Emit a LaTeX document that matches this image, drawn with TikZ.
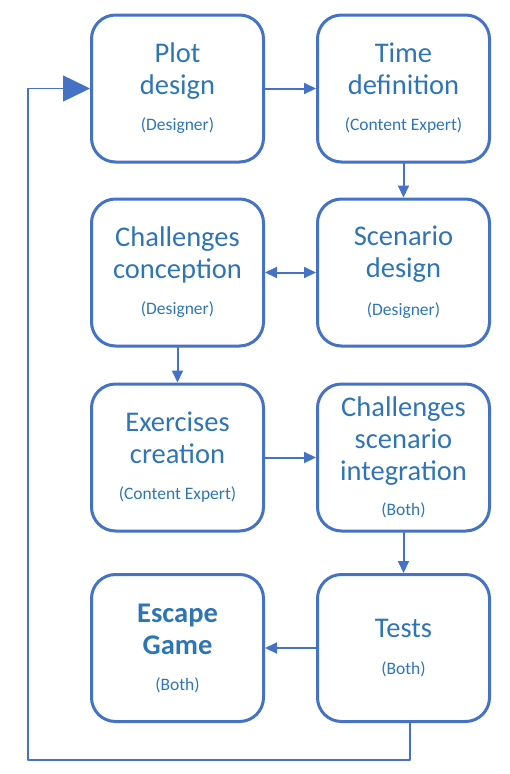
\documentclass[tikz,border=0pt]{standalone}
\usepackage{fontspec}
\setmainfont{Carlito}
\usetikzlibrary{arrows.meta,positioning}
\definecolor{boxblue}{HTML}{4472C4}
\definecolor{txtblue}{HTML}{2E75B6}
\newcommand{\who}[1]{{\fontsize{17.5}{20}\selectfont #1}}

\begin{document}
\begin{tikzpicture}[line cap=round,line join=round,x=1pt,y=-1pt,
		stepbox/.style={draw=boxblue,line width=3pt,rounded corners=24pt,minimum width=172pt,minimum height=147pt,align=center,text=txtblue,inner sep=0pt,font=\fontsize{28.5}{32}\selectfont},
		link/.style={draw=boxblue,line width=2pt,-{Triangle[length=12pt,width=11pt]}}]
				\useasboundingbox (0,0) rectangle (509,774);
				\node[stepbox] (plot) at (177.5,88.5) {Plot\\design\\[4pt]\who{(Designer)}};
				\node[stepbox] (time) at (403.5,88.5) {Time\\definition\\[4pt]\who{(Content Expert)}};
				\node[stepbox] (chall) at (177.5,272.5) {Challenges\\conception\\[4pt]\who{(Designer)}};
				\node[stepbox] (scen) at (403.5,272.5) {Scenario\\design\\[6pt]\who{(Designer)}};
				\node[stepbox] (exer) at (177.5,457.5) {Exercises\\creation\\[4pt]\who{(Content Expert)}};
				\node[stepbox] (integ) at (403.5,457.5) {Challenges\\scenario\\integration\\[3pt]\who{(Both)}};
				\node[stepbox] (game) at (177.5,648) {\bfseries Escape\\\bfseries Game\\[4pt]\who{(Both)}};
				\node[stepbox] (tests) at (403.5,648) {Tests\\[5pt]\who{(Both)}};
				%% arrows between the steps
				\draw[link] (plot) -- (time);
				\draw[link] (time) -- (scen);
				\draw[link,{Triangle[length=12pt,width=11pt]}-{Triangle[length=12pt,width=11pt]}] (chall) -- (scen);
				\draw[link] (chall) -- (exer);
				\draw[link] (exer) -- (integ);
				\draw[link] (integ) -- (tests);
				\draw[link] (tests) -- (game);
				%% loop back to the start
				\coordinate (down) at (410,760);
				\coordinate (corner) at (28,760);
				\draw[draw=boxblue,line width=1.5pt,line cap=butt,-{Triangle[length=27pt,width=26pt]}] ([xshift=6.5pt]tests.south) -- (down) -- (corner) |- (plot.west);
\end{tikzpicture}
\end{document}
